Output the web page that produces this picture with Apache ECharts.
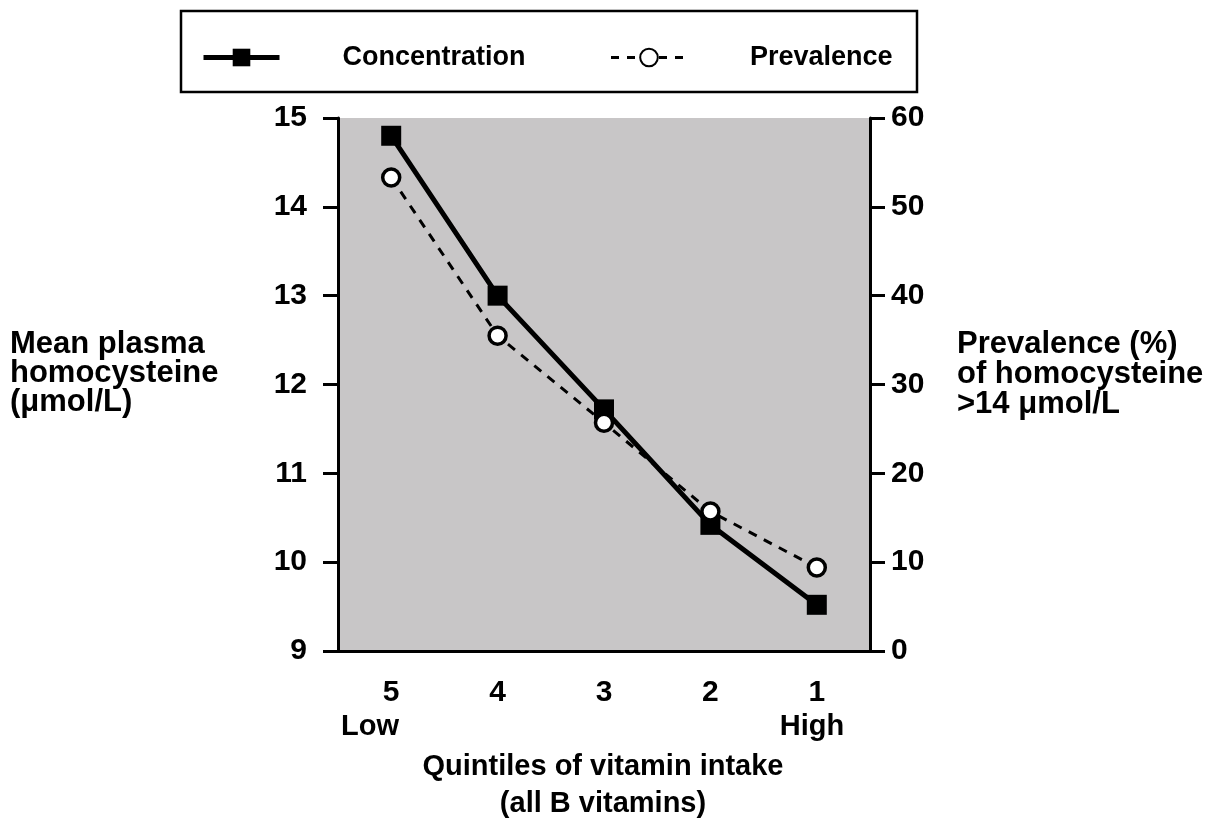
<!DOCTYPE html>
<html>
<head>
<meta charset="utf-8">
<script src="https://cdn.jsdelivr.net/npm/echarts@6/dist/echarts.min.js"></script>
<style>
html,body{margin:0;padding:0;background:#fff;}
#chart{width:1231px;height:820px;}
</style>
</head>
<body>
<div id="chart"></div>
<script>
var categories = ['5', '4', '3', '2', '1'];
var concentration = [14.8, 13.0, 11.72, 10.42, 9.52];
var prevalence = [53.3, 35.5, 25.7, 15.7, 9.4];
var leftTicks = {min: 9, max: 15, interval: 1};
var rightTicks = {min: 0, max: 60, interval: 10};
var seriesNames = ['Concentration', 'Prevalence'];

var FONT = '"Liberation Sans", Arial, Helvetica, sans-serif';
var chart = echarts.init(document.getElementById('chart'), null, {renderer: 'canvas'});

var option = {
  animation: false,
  backgroundColor: '#ffffff',
  textStyle: {fontFamily: FONT, fontWeight: 'bold', color: '#000'},
  grid: {
    left: 338, right: 361, top: 118, bottom: 169,
    show: true, backgroundColor: '#c8c6c7', borderWidth: 0
  },
  legend: {
    left: 196, top: 39,
    itemWidth: 76, itemHeight: 22, itemGap: 84,
    data: [
      {name: seriesNames[0], lineStyle: {width: 5, color: '#000'}},
      {name: seriesNames[1], lineStyle: {width: 3, color: '#000', type: [8, 8]}}
    ],
    textStyle: {fontFamily: FONT, fontWeight: 'bold', fontSize: 27, color: '#000', padding: [0, 0, 0, 58]},
    selectedMode: false
  },
  xAxis: {
    type: 'category',
    data: categories,
    boundaryGap: true,
    axisLine: {lineStyle: {color: '#000', width: 3}},
    axisTick: {alignWithLabel: true, length: 15, lineStyle: {color: '#000', width: 3}},
    axisLabel: {margin: 27, fontSize: 30, fontWeight: 'bold', color: '#000', fontFamily: FONT},
    splitLine: {show: false}
  },
  yAxis: [
    {
      type: 'value', position: 'left',
      min: leftTicks.min, max: leftTicks.max, interval: leftTicks.interval,
      axisLine: {show: true, lineStyle: {color: '#000', width: 3}},
      axisTick: {show: true, length: 15, lineStyle: {color: '#000', width: 3}},
      axisLabel: {margin: 31, fontSize: 30, fontWeight: 'bold', color: '#000', fontFamily: FONT},
      splitLine: {show: false}
    },
    {
      type: 'value', position: 'right',
      min: rightTicks.min, max: rightTicks.max, interval: rightTicks.interval,
      axisLine: {show: true, lineStyle: {color: '#000', width: 3}},
      axisTick: {show: true, length: 15, lineStyle: {color: '#000', width: 3}},
      axisLabel: {margin: 21, fontSize: 30, fontWeight: 'bold', color: '#000', fontFamily: FONT},
      splitLine: {show: false}
    }
  ],
  series: [
    {
      name: seriesNames[0],
      type: 'line',
      yAxisIndex: 0,
      data: concentration,
      symbol: 'rect',
      symbolSize: 20,
      lineStyle: {color: '#000', width: 5},
      itemStyle: {color: '#000', borderColor: '#000', borderWidth: 0},
      z: 3
    },
    {
      name: seriesNames[1],
      type: 'line',
      yAxisIndex: 1,
      data: prevalence,
      symbol: 'circle',
      symbolSize: 17,
      lineStyle: {color: '#000', width: 3, type: [9, 8]},
      itemStyle: {color: '#fff', borderColor: '#000', borderWidth: 3.5},
      z: 4
    }
  ],
  graphic: [
    {
      type: 'rect',
      shape: {x: 181, y: 11, width: 736, height: 81},
      style: {fill: 'none', stroke: '#000', lineWidth: 2.5},
      silent: true
    },
    {
      type: 'text', left: 10, top: 329,
      style: {text: 'Mean plasma\nhomocysteine\n(\u03bcmol/L)', font: 'bold 31px ' + FONT, fill: '#000', lineHeight: 29}
    },
    {
      type: 'text', left: 957, top: 329,
      style: {text: 'Prevalence (%)\nof homocysteine\n>14 \u03bcmol/L', font: 'bold 31px ' + FONT, fill: '#000', lineHeight: 30}
    },
    {
      type: 'text', x: 370, y: 727,
      style: {text: 'Low', font: 'bold 29px ' + FONT, fill: '#000', textAlign: 'center', textVerticalAlign: 'middle'}
    },
    {
      type: 'text', x: 812, y: 727,
      style: {text: 'High', font: 'bold 29px ' + FONT, fill: '#000', textAlign: 'center', textVerticalAlign: 'middle'}
    },
    {
      type: 'text', x: 603, y: 767,
      style: {text: 'Quintiles of vitamin intake', font: 'bold 29px ' + FONT, fill: '#000', textAlign: 'center', textVerticalAlign: 'middle'}
    },
    {
      type: 'text', x: 603, y: 804,
      style: {text: '(all B vitamins)', font: 'bold 29px ' + FONT, fill: '#000', textAlign: 'center', textVerticalAlign: 'middle'}
    }
  ]
};
chart.setOption(option);
</script>
</body>
</html>
